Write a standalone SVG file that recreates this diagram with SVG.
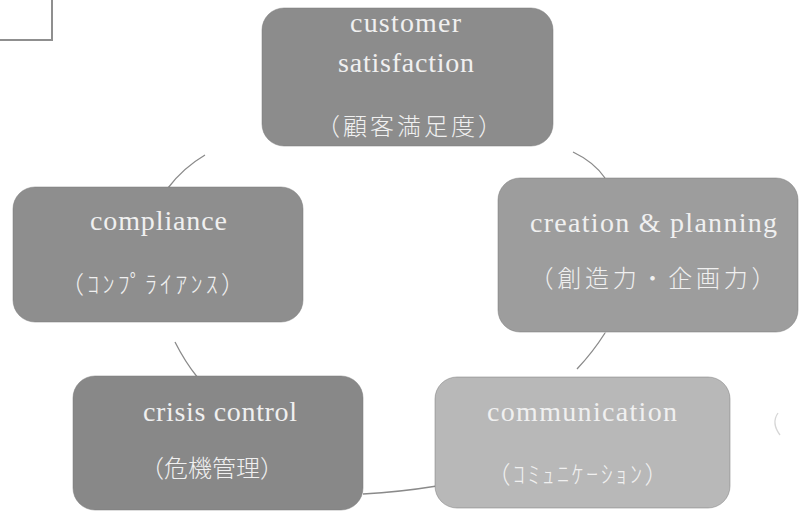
<svg xmlns="http://www.w3.org/2000/svg" width="800" height="514" viewBox="0 0 800 514">
<style>
.box{stroke:#7a7a7a;stroke-width:1;stroke-opacity:0.5}
.en{font-family:"Liberation Serif","DejaVu Serif",serif;font-size:28px;fill:#f0f0f0;text-anchor:middle;letter-spacing:1px}
.jp{font-family:"Noto Sans CJK JP",sans-serif;font-size:24px;font-weight:300;fill:#f0f0f0;text-anchor:middle}
.con{fill:none;stroke:#8a8a8a;stroke-width:1.3}
</style>
<rect width="800" height="514" fill="#ffffff"/>
<rect x="-4" y="-4" width="56" height="44" fill="none" stroke="#8f8f8f" stroke-width="2"/>
<g id="connectors">
<path class="con" d="M205,155 Q183,168 168,188"/>
<path class="con" d="M573,152 Q594,162 605,178"/>
<path class="con" d="M175,342 Q185,362 198,378"/>
<path class="con" d="M605,333 Q593,352 577,369"/>
<path class="con" d="M622,303 Q615,318 605,333" stroke-opacity="0.4"/>
<path class="con" d="M363,494 Q400,492 437,486"/>
<path class="con" d="M778,413 Q771,423 780,435" stroke-opacity="0.35"/>
</g>
<g id="customer">
<rect class="box" x="262" y="8" width="291" height="138" rx="22" fill="#8c8c8c"/>
<text class="en" x="406" y="32" textLength="112">customer</text>
<text class="en" x="406.5" y="72" textLength="137">satisfaction</text>
<text class="jp" x="409" y="135" textLength="186">（顧客満足度）</text>
</g>
<g id="compliance">
<rect class="box" x="13" y="187" width="290" height="135" rx="22" fill="#8e8e8e"/>
<text class="en" x="159" y="230" textLength="138">compliance</text>
<text class="jp" x="152.5" y="293" textLength="185">（ｺﾝﾌﾟﾗｲｱﾝｽ）</text>
</g>
<g id="creation">
<rect class="box" x="498" y="178" width="300" height="154" rx="22" fill="#9d9d9d"/>
<text class="en" x="654" y="232" textLength="248">creation &amp; planning</text>
<text class="jp" x="652.5" y="287" font-size="25" textLength="246">（創造力・企画力）</text>
</g>
<g id="crisis">
<rect class="box" x="73" y="376" width="290" height="134" rx="22" fill="#888888"/>
<text class="en" x="220.5" y="421" textLength="155">crisis control</text>
<text class="jp" x="212" y="477" font-size="23">（危機管理）</text>
</g>
<g id="communication">
<rect class="box" x="435" y="377" width="295" height="131" rx="22" fill="#b8b8b8"/>
<text class="en" x="582.5" y="421" textLength="191">communication</text>
<text class="jp" x="577.5" y="483" font-size="23" textLength="182">（ｺﾐｭﾆｹｰｼｮﾝ）</text>
</g>
</svg>
